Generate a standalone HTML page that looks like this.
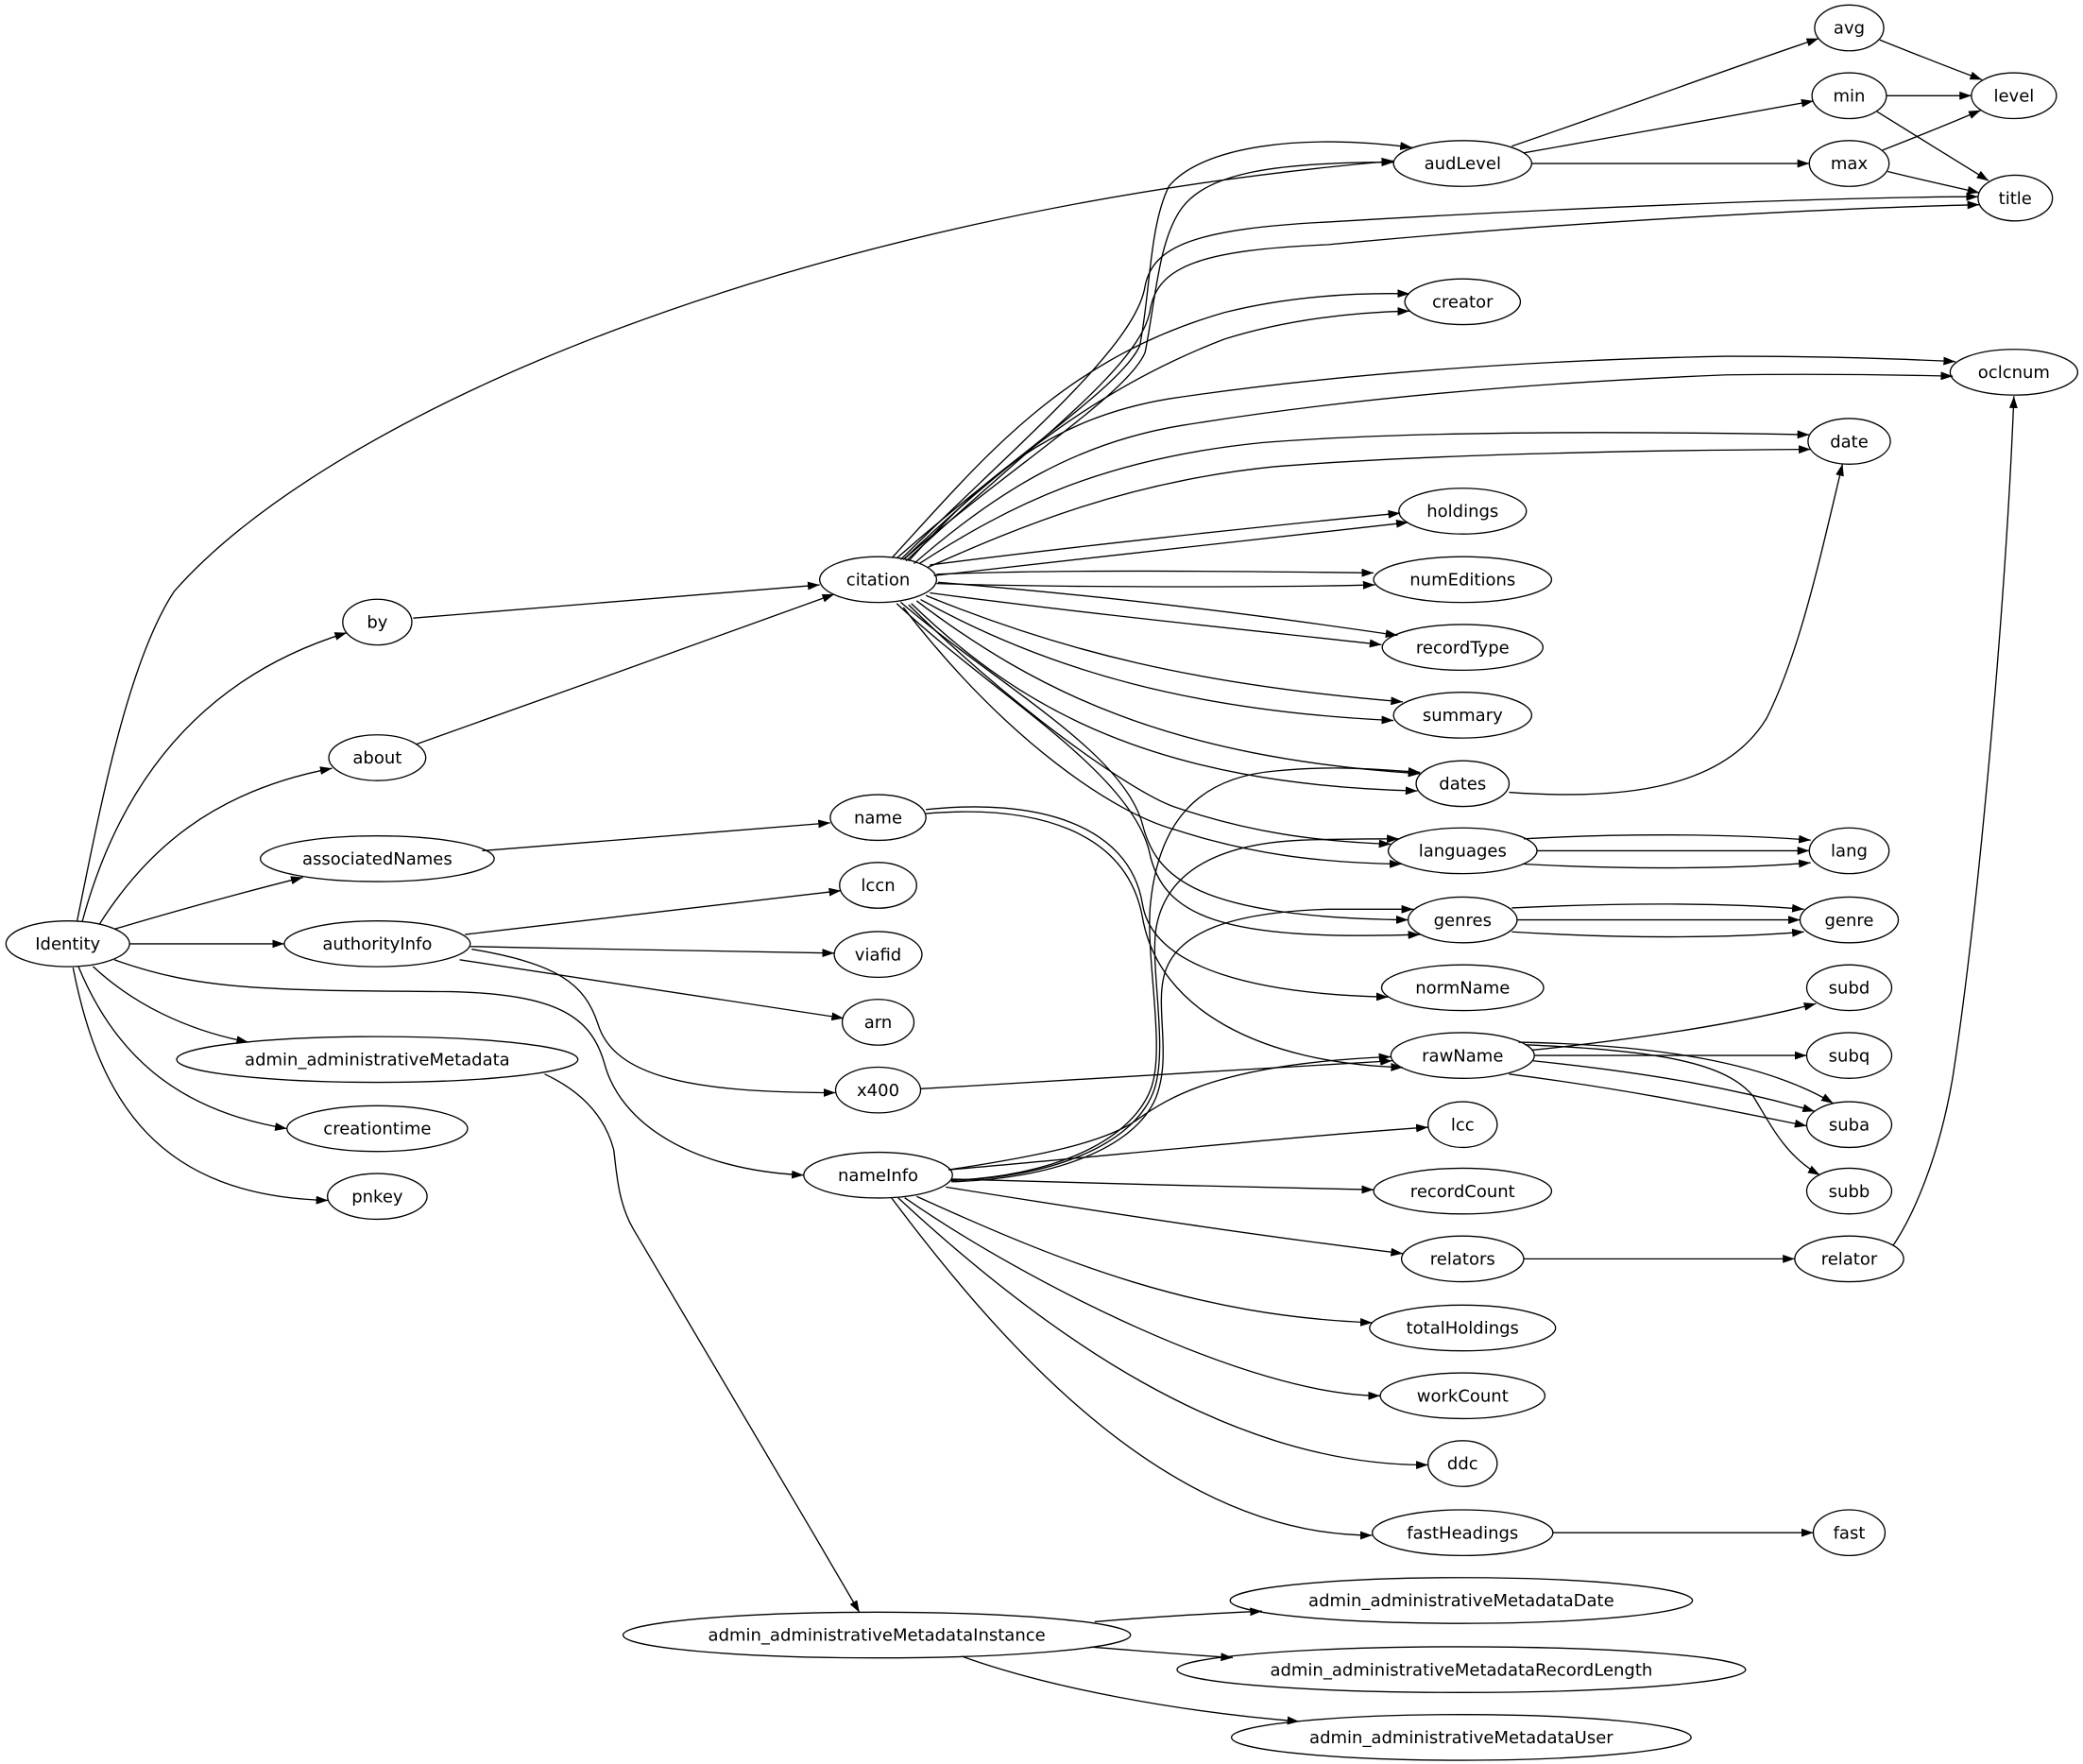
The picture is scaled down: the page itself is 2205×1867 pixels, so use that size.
<!DOCTYPE html>
<html><head><meta charset="utf-8"><style>
html,body{margin:0;padding:0;background:#fff;}
svg{display:block}
path.e{fill:none;stroke:#000;stroke-width:.95;marker-end:url(#a)}
ellipse{fill:none;stroke:#000;stroke-width:.95}
text{font-family:"DejaVu Sans","Liberation Sans",sans-serif;font-size:12.8px;text-anchor:middle;fill:#000}
</style></head><body>
<svg width="2205" height="1867" viewBox="0 0 1568 1327" preserveAspectRatio="none" xmlns="http://www.w3.org/2000/svg">
<defs><marker id="a" viewBox="0 0 10 7" refX="10" refY="3.5" markerWidth="9" markerHeight="6.3" markerUnits="userSpaceOnUse" orient="auto"><path d="M0,0L10,3.5L0,7z" fill="#000"/></marker></defs>
<rect x="0" y="0" width="1568" height="1327" fill="#fff"/>
<!-- Identity edges -->
<path class="e" d="M58,693 C74,615 95,500 131,445 C250,310 600,160 1049,121"/>
<path class="e" d="M62,693 C90,590 150,510 261,476"/>
<path class="e" d="M75,695 C110,640 160,595 250,578"/>
<path class="e" d="M86,699 C130,686 180,672 228,660"/>
<path class="e" d="M97.5,710 L214,710"/>
<path class="e" d="M70,727 C100,755 140,775 187,784"/>
<path class="e" d="M59,727 C85,790 130,835 216,849"/>
<path class="e" d="M55,728 C75,830 120,900 247,903"/>
<path class="e" d="M86,722 C150,745 200,745 340,746 C420,748 445,765 455,800 C467,845 520,880 605,884"/>
<!-- authorityInfo -->
<path class="e" d="M350,703 C450,691 550,680 633,670"/>
<path class="e" d="M354,712 C450,714 550,716 628,717"/>
<path class="e" d="M346,722 C450,738 550,753 635,766"/>
<path class="e" d="M355,714 C420,725 440,740 450,770 C462,810 520,822 629,822"/>
<!-- associatedNames, by, about -->
<path class="e" d="M363,640 C450,633 540,626 625,619"/>
<path class="e" d="M311,465 C420,456 520,448 617,440"/>
<path class="e" d="M313,560 C420,522 520,486 628,447"/>
<!-- admin -->
<path class="e" d="M410,808 C440,822 456,842 462,865 C464,880 465,905 477,925 C530,1015 590,1115 647,1213"/>
<path class="e" d="M824,1220 C870,1216 910,1214 950,1212"/>
<path class="e" d="M821,1239 C860,1242 895,1245 928,1247"/>
<path class="e" d="M724,1246 C790,1270 890,1288 978,1295"/>
<!-- citation fan -->
<path class="e" d="M675,420 C760,345 845,290 858,260 C866,220 865,170 880,140 C905,110 980,100 1063,111"/>
<path class="e" d="M680,421 C765,348 850,295 862,265 C870,225 872,180 890,156 C910,130 960,122 1049,122"/>
<path class="e" d="M678,421 C770,330 855,260 862,215 C868,185 900,172 1000,167 C1200,155 1400,148 1489,148"/>
<path class="e" d="M682,422 C775,335 860,275 866,232 C872,200 905,188 1000,184 C1200,165 1400,156 1490,154"/>
<path class="e" d="M672,419 C740,345 800,270 922,235 C970,223 1020,220 1061,221"/>
<path class="e" d="M680,421 C760,345 830,290 922,255 C970,240 1020,235 1061,234"/>
<path class="e" d="M684,422 C740,360 790,315 880,300 C960,288 1100,272 1300,268 C1380,268 1430,270 1472,272"/>
<path class="e" d="M688,424 C750,370 810,333 890,320 C970,307 1100,290 1300,282 C1380,281 1430,282 1470,283"/>
<path class="e" d="M692,424 C760,380 830,345 950,333 C1050,325 1200,324 1362,327"/>
<path class="e" d="M698,427 C770,395 850,362 960,351 C1060,343 1200,339 1363,338"/>
<path class="e" d="M700,425 C800,412 950,396 1054,386"/>
<path class="e" d="M703,433 C820,420 950,405 1060,393"/>
<path class="e" d="M705,432 C800,428 950,430 1034,431"/>
<path class="e" d="M705,439 C800,442 950,442 1035,440"/>
<path class="e" d="M706,438 C850,450 950,463 1052,478"/>
<path class="e" d="M700,446 C820,462 950,475 1040,485"/>
<path class="e" d="M697,448 C800,490 900,515 1056,528"/>
<path class="e" d="M693,451 C790,505 900,535 1049,542"/>
<path class="e" d="M690,452 C780,520 880,570 1069,582"/>
<path class="e" d="M686,454 C770,535 870,590 1067,595"/>
<path class="e" d="M684,455 C760,530 850,595 884,607 C940,626 990,633 1047,635"/>
<path class="e" d="M680,457 C760,560 840,612 884,624 C940,642 990,649 1055,650"/>
<path class="e" d="M678,453 C750,515 845,565 860,620 C870,660 900,690 1060,692"/>
<path class="e" d="M675,454 C745,520 850,580 865,640 C875,690 920,708 1069,703"/>
<!-- name -->
<path class="e" d="M697,609 C780,600 850,620 860,680 C868,730 950,748 1045,750"/>
<path class="e" d="M697,612 C780,605 848,625 860,690 C872,760 950,800 1056,803"/>
<path class="e" d="M693,819 C820,812 950,803 1048,798"/>
<!-- nameInfo -->
<path class="e" d="M714,880 C780,870 830,860 855,843 C880,825 920,800 1047,795"/>
<path class="e" d="M716,888 C790,885 850,860 866,820 C878,790 862,720 866,680 C872,620 900,585 960,580 C1000,576 1030,578 1069,581"/>
<path class="e" d="M716,888 C790,886 852,862 868,822 C880,792 866,730 870,700 C876,660 910,635 980,632 C1010,631 1030,631 1053,631"/>
<path class="e" d="M716,889 C792,887 854,864 870,826 C882,796 870,760 876,735 C884,700 930,686 1000,684 C1025,684 1045,684 1064,684"/>
<path class="e" d="M714,880 C830,870 960,856 1075,848"/>
<path class="e" d="M716,887 C820,890 930,893 1034,895"/>
<path class="e" d="M712,893 C850,915 950,930 1056,943"/>
<path class="e" d="M690,900 C800,950 900,990 1033,995"/>
<path class="e" d="M681,901 C770,963 940,1050 1039,1050"/>
<path class="e" d="M676,901 C786,1003 925,1103 1075,1102"/>
<path class="e" d="M671,901 C761,1021 883,1155 1033,1155"/>
<!-- audLevel -->
<path class="e" d="M1138,110 C1220,82 1300,52 1369,29"/>
<path class="e" d="M1147,115 C1220,102 1300,88 1365,76"/>
<path class="e" d="M1153,123 C1230,123 1300,123 1362,123"/>
<path class="e" d="M1415,30 C1440,40 1465,50 1492,60"/>
<path class="e" d="M1420,72 C1440,72 1462,72 1484,72"/>
<path class="e" d="M1413,84 C1440,101 1470,119 1497,136"/>
<path class="e" d="M1417,113 C1440,104 1465,94 1491,83"/>
<path class="e" d="M1421,129 C1445,135 1468,140 1490,145"/>
<!-- dates, languages, genres -->
<path class="e" d="M1136,596 C1230,603 1300,590 1330,540 C1355,490 1370,420 1387,349"/>
<path class="e" d="M1147,631 C1220,627 1300,627 1363,632"/>
<path class="e" d="M1157,640 C1230,640 1300,640 1362,640"/>
<path class="e" d="M1147,650 C1220,654 1300,654 1363,649"/>
<path class="e" d="M1138,683 C1220,679 1300,679 1358,684"/>
<path class="e" d="M1142,692 C1220,692 1290,692 1355,692"/>
<path class="e" d="M1138,701 C1220,706 1300,706 1358,701"/>
<!-- rawName -->
<path class="e" d="M1153,790 C1230,782 1310,770 1367,755"/>
<path class="e" d="M1155,794 C1230,794 1300,794 1360,794"/>
<path class="e" d="M1143,784 C1250,786 1330,800 1380,830"/>
<path class="e" d="M1154,798 C1250,808 1310,820 1366,836"/>
<path class="e" d="M1136,808 C1230,820 1300,835 1360,847"/>
<path class="e" d="M1148,786 C1250,790 1300,800 1320,825 C1335,850 1345,870 1370,884"/>
<!-- relators, relator, fast -->
<path class="e" d="M1147,947 C1220,947 1290,947 1351,947"/>
<path class="e" d="M1425,937 C1440,915 1460,870 1470,810 C1490,680 1510,450 1516,298"/>
<path class="e" d="M1169,1153 C1240,1153 1300,1153 1365,1153"/>
<!-- nodes -->
<g>
<ellipse cx="51" cy="710" rx="46.5" ry="17.2"/><text x="51" y="714.4">Identity</text>
<ellipse cx="284" cy="468" rx="26" ry="17.2"/><text x="284" y="472.4">by</text>
<ellipse cx="284" cy="570" rx="36.5" ry="17.2"/><text x="284" y="574.4">about</text>
<ellipse cx="284" cy="646" rx="88" ry="17.2"/><text x="284" y="650.4">associatedNames</text>
<ellipse cx="284" cy="710" rx="70" ry="17.2"/><text x="284" y="714.4">authorityInfo</text>
<ellipse cx="284" cy="797" rx="151" ry="17.2"/><text x="284" y="801.4">admin_administrativeMetadata</text>
<ellipse cx="284" cy="849" rx="68" ry="17.2"/><text x="284" y="853.4">creationtime</text>
<ellipse cx="284" cy="900" rx="37.5" ry="17.2"/><text x="284" y="904.4">pnkey</text>
<ellipse cx="661" cy="436" rx="44" ry="17.2"/><text x="661" y="440.4">citation</text>
<ellipse cx="661" cy="615" rx="36" ry="17.2"/><text x="661" y="619.4">name</text>
<ellipse cx="661" cy="666" rx="29" ry="17.2"/><text x="661" y="670.4">lccn</text>
<ellipse cx="661" cy="718" rx="33" ry="17.2"/><text x="661" y="722.4">viafid</text>
<ellipse cx="661" cy="769" rx="27" ry="17.2"/><text x="661" y="773.4">arn</text>
<ellipse cx="661" cy="820" rx="32" ry="17.2"/><text x="661" y="824.4">x400</text>
<ellipse cx="661" cy="884" rx="56" ry="17.2"/><text x="661" y="888.4">nameInfo</text>
<ellipse cx="660" cy="1230" rx="191" ry="17.2"/><text x="660" y="1234.4">admin_administrativeMetadataInstance</text>
<ellipse cx="1101" cy="123" rx="52" ry="17.2"/><text x="1101" y="127.4">audLevel</text>
<ellipse cx="1101" cy="227" rx="43.5" ry="17.2"/><text x="1101" y="231.4">creator</text>
<ellipse cx="1101" cy="384.5" rx="48" ry="17.2"/><text x="1101" y="388.9">holdings</text>
<ellipse cx="1101" cy="436" rx="67" ry="17.2"/><text x="1101" y="440.4">numEditions</text>
<ellipse cx="1101" cy="487" rx="60.5" ry="17.2"/><text x="1101" y="491.4">recordType</text>
<ellipse cx="1101" cy="538" rx="52" ry="17.2"/><text x="1101" y="542.4">summary</text>
<ellipse cx="1101" cy="589.5" rx="35" ry="17.2"/><text x="1101" y="593.9">dates</text>
<ellipse cx="1101" cy="640" rx="56" ry="17.2"/><text x="1101" y="644.4">languages</text>
<ellipse cx="1101" cy="692" rx="41" ry="17.2"/><text x="1101" y="696.4">genres</text>
<ellipse cx="1101" cy="743" rx="61" ry="17.2"/><text x="1101" y="747.4">normName</text>
<ellipse cx="1101" cy="794" rx="54" ry="17.2"/><text x="1101" y="798.4">rawName</text>
<ellipse cx="1101" cy="846" rx="26" ry="17.2"/><text x="1101" y="850.4">lcc</text>
<ellipse cx="1101" cy="896" rx="67" ry="17.2"/><text x="1101" y="900.4">recordCount</text>
<ellipse cx="1101" cy="947" rx="46" ry="17.2"/><text x="1101" y="951.4">relators</text>
<ellipse cx="1101" cy="999" rx="70" ry="17.2"/><text x="1101" y="1003.4">totalHoldings</text>
<ellipse cx="1101" cy="1050" rx="62" ry="17.2"/><text x="1101" y="1054.4">workCount</text>
<ellipse cx="1101" cy="1101" rx="26" ry="17.2"/><text x="1101" y="1105.4">ddc</text>
<ellipse cx="1101" cy="1153" rx="68" ry="17.2"/><text x="1101" y="1157.4">fastHeadings</text>
<ellipse cx="1100" cy="1204" rx="174" ry="17.2"/><text x="1100" y="1208.4">admin_administrativeMetadataDate</text>
<ellipse cx="1100" cy="1256" rx="214" ry="17.2"/><text x="1100" y="1260.4">admin_administrativeMetadataRecordLength</text>
<ellipse cx="1100" cy="1307" rx="173" ry="17.2"/><text x="1100" y="1311.4">admin_administrativeMetadataUser</text>
<ellipse cx="1392" cy="21" rx="26" ry="17.2"/><text x="1392" y="25.4">avg</text>
<ellipse cx="1392" cy="72" rx="28" ry="17.2"/><text x="1392" y="76.4">min</text>
<ellipse cx="1392" cy="123" rx="30" ry="17.2"/><text x="1392" y="127.4">max</text>
<ellipse cx="1392" cy="332" rx="31" ry="17.2"/><text x="1392" y="336.4">date</text>
<ellipse cx="1392" cy="640" rx="30" ry="17.2"/><text x="1392" y="644.4">lang</text>
<ellipse cx="1392" cy="692" rx="37" ry="17.2"/><text x="1392" y="696.4">genre</text>
<ellipse cx="1392" cy="743" rx="32" ry="17.2"/><text x="1392" y="747.4">subd</text>
<ellipse cx="1392" cy="794" rx="32" ry="17.2"/><text x="1392" y="798.4">subq</text>
<ellipse cx="1392" cy="846" rx="32" ry="17.2"/><text x="1392" y="850.4">suba</text>
<ellipse cx="1392" cy="896" rx="32" ry="17.2"/><text x="1392" y="900.4">subb</text>
<ellipse cx="1392" cy="947" rx="41" ry="17.2"/><text x="1392" y="951.4">relator</text>
<ellipse cx="1392" cy="1153" rx="27" ry="17.2"/><text x="1392" y="1157.4">fast</text>
<ellipse cx="1516" cy="72" rx="32" ry="17.2"/><text x="1516" y="76.4">level</text>
<ellipse cx="1517" cy="149" rx="28" ry="17.2"/><text x="1517" y="153.4">title</text>
<ellipse cx="1516" cy="280" rx="48" ry="17.2"/><text x="1516" y="284.4">oclcnum</text>
</g>
</svg>
</body></html>
